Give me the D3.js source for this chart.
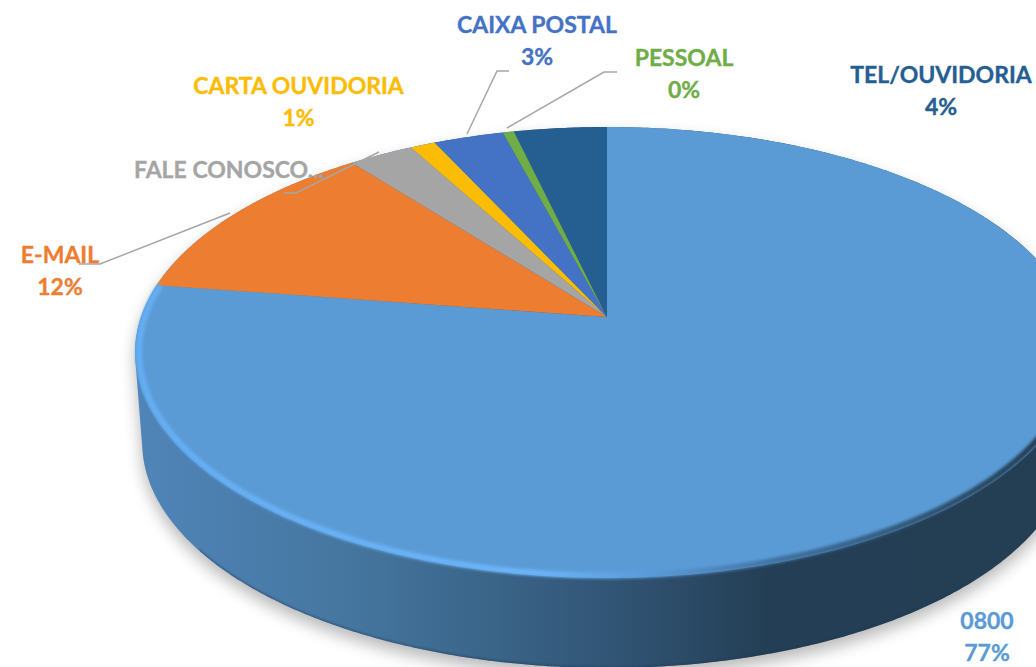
<!DOCTYPE html>
<html>
<head>
<meta charset="utf-8">
<script src="https://cdn.jsdelivr.net/npm/d3@7"></script>
<style>
  html, body { margin: 0; background: #fff; }
  svg { display: block; }
  text { font-family: Lato, "Open Sans", sans-serif; font-weight: 700; font-size: 23px; stroke-width: 0.35px; }
</style>
</head>
<body>
<div id="chart"></div>
<script>
const categories = ["0800", "E-MAIL", "FALE CONOSCO", "CARTA OUVIDORIA", "CAIXA POSTAL", "PESSOAL", "TEL/OUVIDORIA"]
const values = [77.4, 12.1, 2.6, 1.0, 2.8, 0.45, 3.7]
const colors = ["#5b9bd5", "#ed7d31", "#a5a5a5", "#fbbc05", "#4472c4", "#70ad47", "#255e91"]
const labelText = ["0800", "E-MAIL", "FALE CONOSCO...", "CARTA OUVIDORIA", "CAIXA POSTAL", "PESSOAL", "TEL/OUVIDORIA"]
const showPercent = [true, true, false, true, true, true, true]

// label anchor [x, baseline y]
const labelPos = [[987, 629], [60, 263], [134, 178], [298.5, 94], [537, 33], [684, 66], [941, 83]]
const leaders = [
    null,
    [[230, 213], [100, 264], [79, 264]],
    [[379, 152], [296, 193], [284, 193]],
    null,
    [[467, 134], [497, 71], [509, 71]],
    [[507, 128], [604, 72], [617, 72]],
    null
]

const width = 1036
const height = 667

// pie apex, the disc is tilted with some perspective so the apex sits above the ellipse centre
const apex = { x: 607, y: 317 }
const persp = 0.1574
const radX = 466
const radY = 219.9
const wallDrop = 90

function project(theta, r = 1, sx = 1, dy = 0) {
    const u = Math.sin(theta) * r
    const v = -Math.cos(theta) * r
    const w = 1 - persp * v
    return [apex.x + sx * radX * u / w, apex.y + dy + radY * v / w]
}

function arcPoints(a0, a1, r = 1) {
    const n = Math.max(2, Math.ceil(Math.abs(a1 - a0) / 0.01))
    return d3.range(n + 1).map(i => project(a0 + (a1 - a0) * i / n, r))
}

const total = d3.sum(values)
const pct = d3.format(".0%")
const pie = d3.pie().sort(null)
const arcs = pie(values)
const line = d3.line()

const svg = d3.select("#chart").append("svg")
    .attr("width", width)
    .attr("height", height)

const defs = svg.append("defs")

const blur = (id, dev) => defs.append("filter")
    .attr("id", id)
    .attr("x", "-10%").attr("y", "-10%").attr("width", "120%").attr("height", "120%")
    .append("feGaussianBlur").attr("stdDeviation", dev)
blur("shadowBlur", 8)
blur("rimBlur", 1.8)
blur("edgeBlur", 1)

const gradient = (id, stops) => defs.append("linearGradient")
    .attr("id", id)
    .attr("gradientUnits", "userSpaceOnUse")
    .attr("x1", 135).attr("x2", 1036).attr("y1", 0).attr("y2", 0)
    .selectAll("stop").data(stops).join("stop")
    .attr("offset", d => d[0])
    .attr("stop-color", d => d[1])

gradient("wallFill", [
    [0, "#5085b9"], [0.24, "#45769f"], [0.4, "#3a6488"], [0.56, "#2f5170"], [0.7, "#243f55"], [1, "#243e54"]
])
gradient("rimStroke", [
    [0, "#64aef3"], [0.45, "#6cb4f8"], [0.58, "#5a97d5"], [0.72, "#3f709c"], [1, "#243e54"]
])

// shadow and side wall
const ring = d3.range(0, 2 * Math.PI, 0.01)
const topRing = ring.map(t => project(t))
const bottomRing = ring.map(t => project(t, 1, 0.985, wallDrop))
const hull = d3.polygonHull(topRing.concat(bottomRing))
const frontRing = ring.filter(t => t > Math.PI * 0.75 && t < Math.PI * 1.3)
    .map(t => project(t, 1, 0.985, wallDrop))

defs.append("clipPath").attr("id", "wallClip")
    .append("path").attr("d", line(hull) + "Z")

svg.append("path")
    .attr("d", line(hull) + "Z")
    .attr("transform", "translate(0,8)")
    .attr("fill", "#000")
    .attr("opacity", 0.28)
    .attr("filter", "url(#shadowBlur)")

svg.append("path")
    .attr("d", line(hull) + "Z")
    .attr("fill", "url(#wallFill)")

// dark lip along the bottom of the wall
svg.append("g").attr("clip-path", "url(#wallClip)")
    .append("path")
    .attr("d", line(frontRing))
    .attr("fill", "none")
    .attr("stroke", "#1d3550")
    .attr("stroke-opacity", 0.6)
    .attr("stroke-width", 2)
    .attr("filter", "url(#edgeBlur)")

// slices
svg.selectAll("path.slice")
    .data(arcs)
    .join("path")
    .attr("class", "slice")
    .attr("d", d => line([[apex.x, apex.y]].concat(arcPoints(d.startAngle, d.endAngle))) + "Z")
    .attr("fill", (d, i) => colors[i])

// soft bevel along the front edge of the big slice
svg.append("path")
    .attr("d", line(arcPoints(arcs[0].endAngle, Math.PI / 2, 0.992)))
    .attr("fill", "none")
    .attr("stroke", "url(#rimStroke)")
    .attr("stroke-width", 6)
    .attr("filter", "url(#rimBlur)")

// leader lines
svg.selectAll("path.leader")
    .data(leaders.filter(d => d))
    .join("path")
    .attr("class", "leader")
    .attr("d", d => line(d))
    .attr("fill", "none")
    .attr("stroke", "#a6a6a6")
    .attr("stroke-width", 1.5)

// labels
categories.forEach((c, i) => {
    const anchor = c === "FALE CONOSCO" ? "start" : "middle"
    svg.append("text")
        .attr("x", labelPos[i][0])
        .attr("y", labelPos[i][1])
        .attr("text-anchor", anchor)
        .attr("fill", colors[i])
        .attr("stroke", colors[i])
        .text(labelText[i])
    if (showPercent[i]) {
        svg.append("text")
            .attr("x", labelPos[i][0])
            .attr("y", labelPos[i][1] + 32)
            .attr("text-anchor", anchor)
            .attr("fill", colors[i])
            .attr("stroke", colors[i])
            .text(pct(values[i] / total))
    }
})
</script>
</body>
</html>
